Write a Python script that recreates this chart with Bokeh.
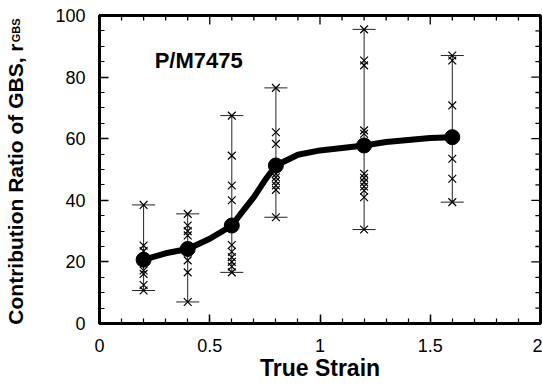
import numpy as np
from bokeh.plotting import figure
from bokeh.models import (Range1d, LinearAxis, FixedTicker, CustomJSTickFormatter,
                          ColumnDataSource, Whisker, TeeHead, Label)
from bokeh.embed import file_html
from bokeh.resources import INLINE

# ---- data ----
strain = [0.2, 0.4, 0.6, 0.8, 1.2, 1.6]
mean_rgbs = [20.7, 24.2, 31.8, 51.3, 57.8, 60.5]
samples = {
    0.2: [38.5, 25.3, 23.5, 17.2, 16.1, 12.5, 10.7],
    0.4: [35.6, 31.8, 30.0, 28.6, 20.5, 16.6, 7.0],
    0.6: [67.5, 54.5, 44.8, 40.0, 25.5, 23.3, 21.5, 20.0, 18.5, 16.6],
    0.8: [76.5, 62.1, 58.3, 48.6, 47.5, 46.2, 44.8, 43.4, 34.5],
    1.2: [95.5, 85.4, 83.8, 62.7, 61.6, 48.6, 47.3, 45.9, 44.5, 43.2, 41.0, 30.5],
    1.6: [87.0, 85.4, 70.8, 53.5, 47.0, 39.4],
}
# hand-drawn trend curve
curve_x = [0.2, 0.3, 0.4, 0.5, 0.6, 0.65, 0.7, 0.75, 0.8, 0.9, 1.0, 1.1, 1.2, 1.3, 1.4, 1.5, 1.6]
curve_y = [20.7, 22.8, 24.2, 27.5, 31.8, 36.5, 41.0, 46.5, 51.3, 54.8, 56.2, 57.0, 57.8, 58.9, 59.6, 60.2, 60.5]
x_ticks = [0, 0.5, 1, 1.5, 2]
x_minor = [i / 10 for i in range(21)]
y_ticks = [0, 20, 40, 60, 80, 100]
y_minor = list(range(0, 101, 5))

FONT = "Liberation Sans"
X0, X1, Y0, Y1 = 0, 2, 0, 100
NB = "\u00a0"

p = figure(width=542, height=390, output_backend="svg", toolbar_location=None,
           x_range=Range1d(X0, X1), y_range=Range1d(Y0, Y1),
           min_border_left=98, min_border_right=2, min_border_top=15, min_border_bottom=67,
           x_axis_location=None, y_axis_location=None)
p.grid.visible = False
p.outline_line_color = "black"
p.outline_line_width = 3
p.background_fill_color = "white"
p.border_fill_color = "white"

fmt = CustomJSTickFormatter(code="return tick.toString();")

def style(ax):
    ax.axis_line_width = 3
    ax.axis_line_color = "black"
    ax.major_tick_in = 9
    ax.major_tick_out = 0
    ax.minor_tick_in = 5
    ax.minor_tick_out = 0
    ax.major_tick_line_width = 1.5
    ax.minor_tick_line_width = 1.2
    ax.major_tick_line_color = "black"
    ax.minor_tick_line_color = "black"
    ax.formatter = fmt
    ax.major_label_text_font = FONT
    ax.major_label_text_font_size = "18px"
    ax.major_label_text_color = "black"

def title_axis(text, size, standoff):
    ax = LinearAxis(ticker=FixedTicker(ticks=[], minor_ticks=[]))
    ax.axis_line_color = None
    ax.major_tick_line_color = None
    ax.minor_tick_line_color = None
    ax.major_label_text_font_size = "0px"
    ax.major_tick_in = 0; ax.major_tick_out = 0
    ax.minor_tick_in = 0; ax.minor_tick_out = 0
    ax.major_label_standoff = 0
    ax.axis_label = text
    ax.axis_label_text_font = FONT
    ax.axis_label_text_font_size = size
    ax.axis_label_text_font_style = "bold"
    ax.axis_label_text_color = "black"
    ax.axis_label_standoff = standoff
    return ax

xb = LinearAxis(ticker=FixedTicker(ticks=x_ticks, minor_ticks=x_minor)); style(xb)
xb.major_label_standoff = 15
xb.axis_label = "True Strain"
xb.axis_label_text_font = FONT
xb.axis_label_text_font_size = "23px"
xb.axis_label_text_font_style = "bold"
xb.axis_label_text_color = "black"
xb.axis_label_standoff = 0
p.add_layout(xb, "below")

# left side, from the frame outwards: ticks+labels, subscript, main title
yl = LinearAxis(ticker=FixedTicker(ticks=y_ticks, minor_ticks=y_minor)); style(yl)
yl.major_label_standoff = 14
p.add_layout(yl, "left")
p.add_layout(title_axis(NB * 91 + "GBS", "11px", 31), "left")
p.add_layout(title_axis("Contribution Ratio of GBS, r" + NB * 5, "21px", -20), "left")

# inward ticks on the top and right frame edges
maj_dy, min_dy = 9 / 3.08, 5 / 3.08
maj_dx, min_dx = 9 / 216.0, 5 / 216.0
tx0, tx1, ty0, ty1 = [], [], [], []
for t in x_minor:
    d = maj_dy if any(abs(t - m) < 1e-9 for m in x_ticks) else min_dy
    tx0.append(t); tx1.append(t); ty0.append(Y1); ty1.append(Y1 - d)
for t in y_minor:
    d = maj_dx if t in y_ticks else min_dx
    tx0.append(X1); tx1.append(X1 - d); ty0.append(t); ty1.append(t)
p.segment(tx0, ty0, tx1, ty1, line_color="black", line_width=1.3)

# error bars (range of individual measurements)
lo = [min(samples[s]) for s in strain]
hi = [max(samples[s]) for s in strain]
wsrc = ColumnDataSource(dict(x=strain, lo=lo, hi=hi))
w = Whisker(source=wsrc, base="x", lower="lo", upper="hi", line_color="#222222", line_width=1,
            upper_head=TeeHead(size=23, line_width=1, line_color="#222222"),
            lower_head=TeeHead(size=23, line_width=1, line_color="#222222"))
p.add_layout(w)

# individual measurements
px, py = [], []
for s in strain:
    for v in samples[s]:
        px.append(s); py.append(v)
p.scatter(px, py, marker="x", size=11, line_color="black", line_width=1.2)

# trend line and mean values
p.line(curve_x, curve_y, line_width=6, line_color="black", line_join="round", line_cap="round")
p.scatter(strain, mean_rgbs, marker="circle", size=15, fill_color="black", line_color="black")

# material label
p.add_layout(Label(x=0.25, y=89.5, text="P/M7475", text_font=FONT, text_font_size="22px",
                   text_font_style="bold", text_color="black", text_baseline="top"))

open("out.html", "w").write(file_html(p, INLINE))
